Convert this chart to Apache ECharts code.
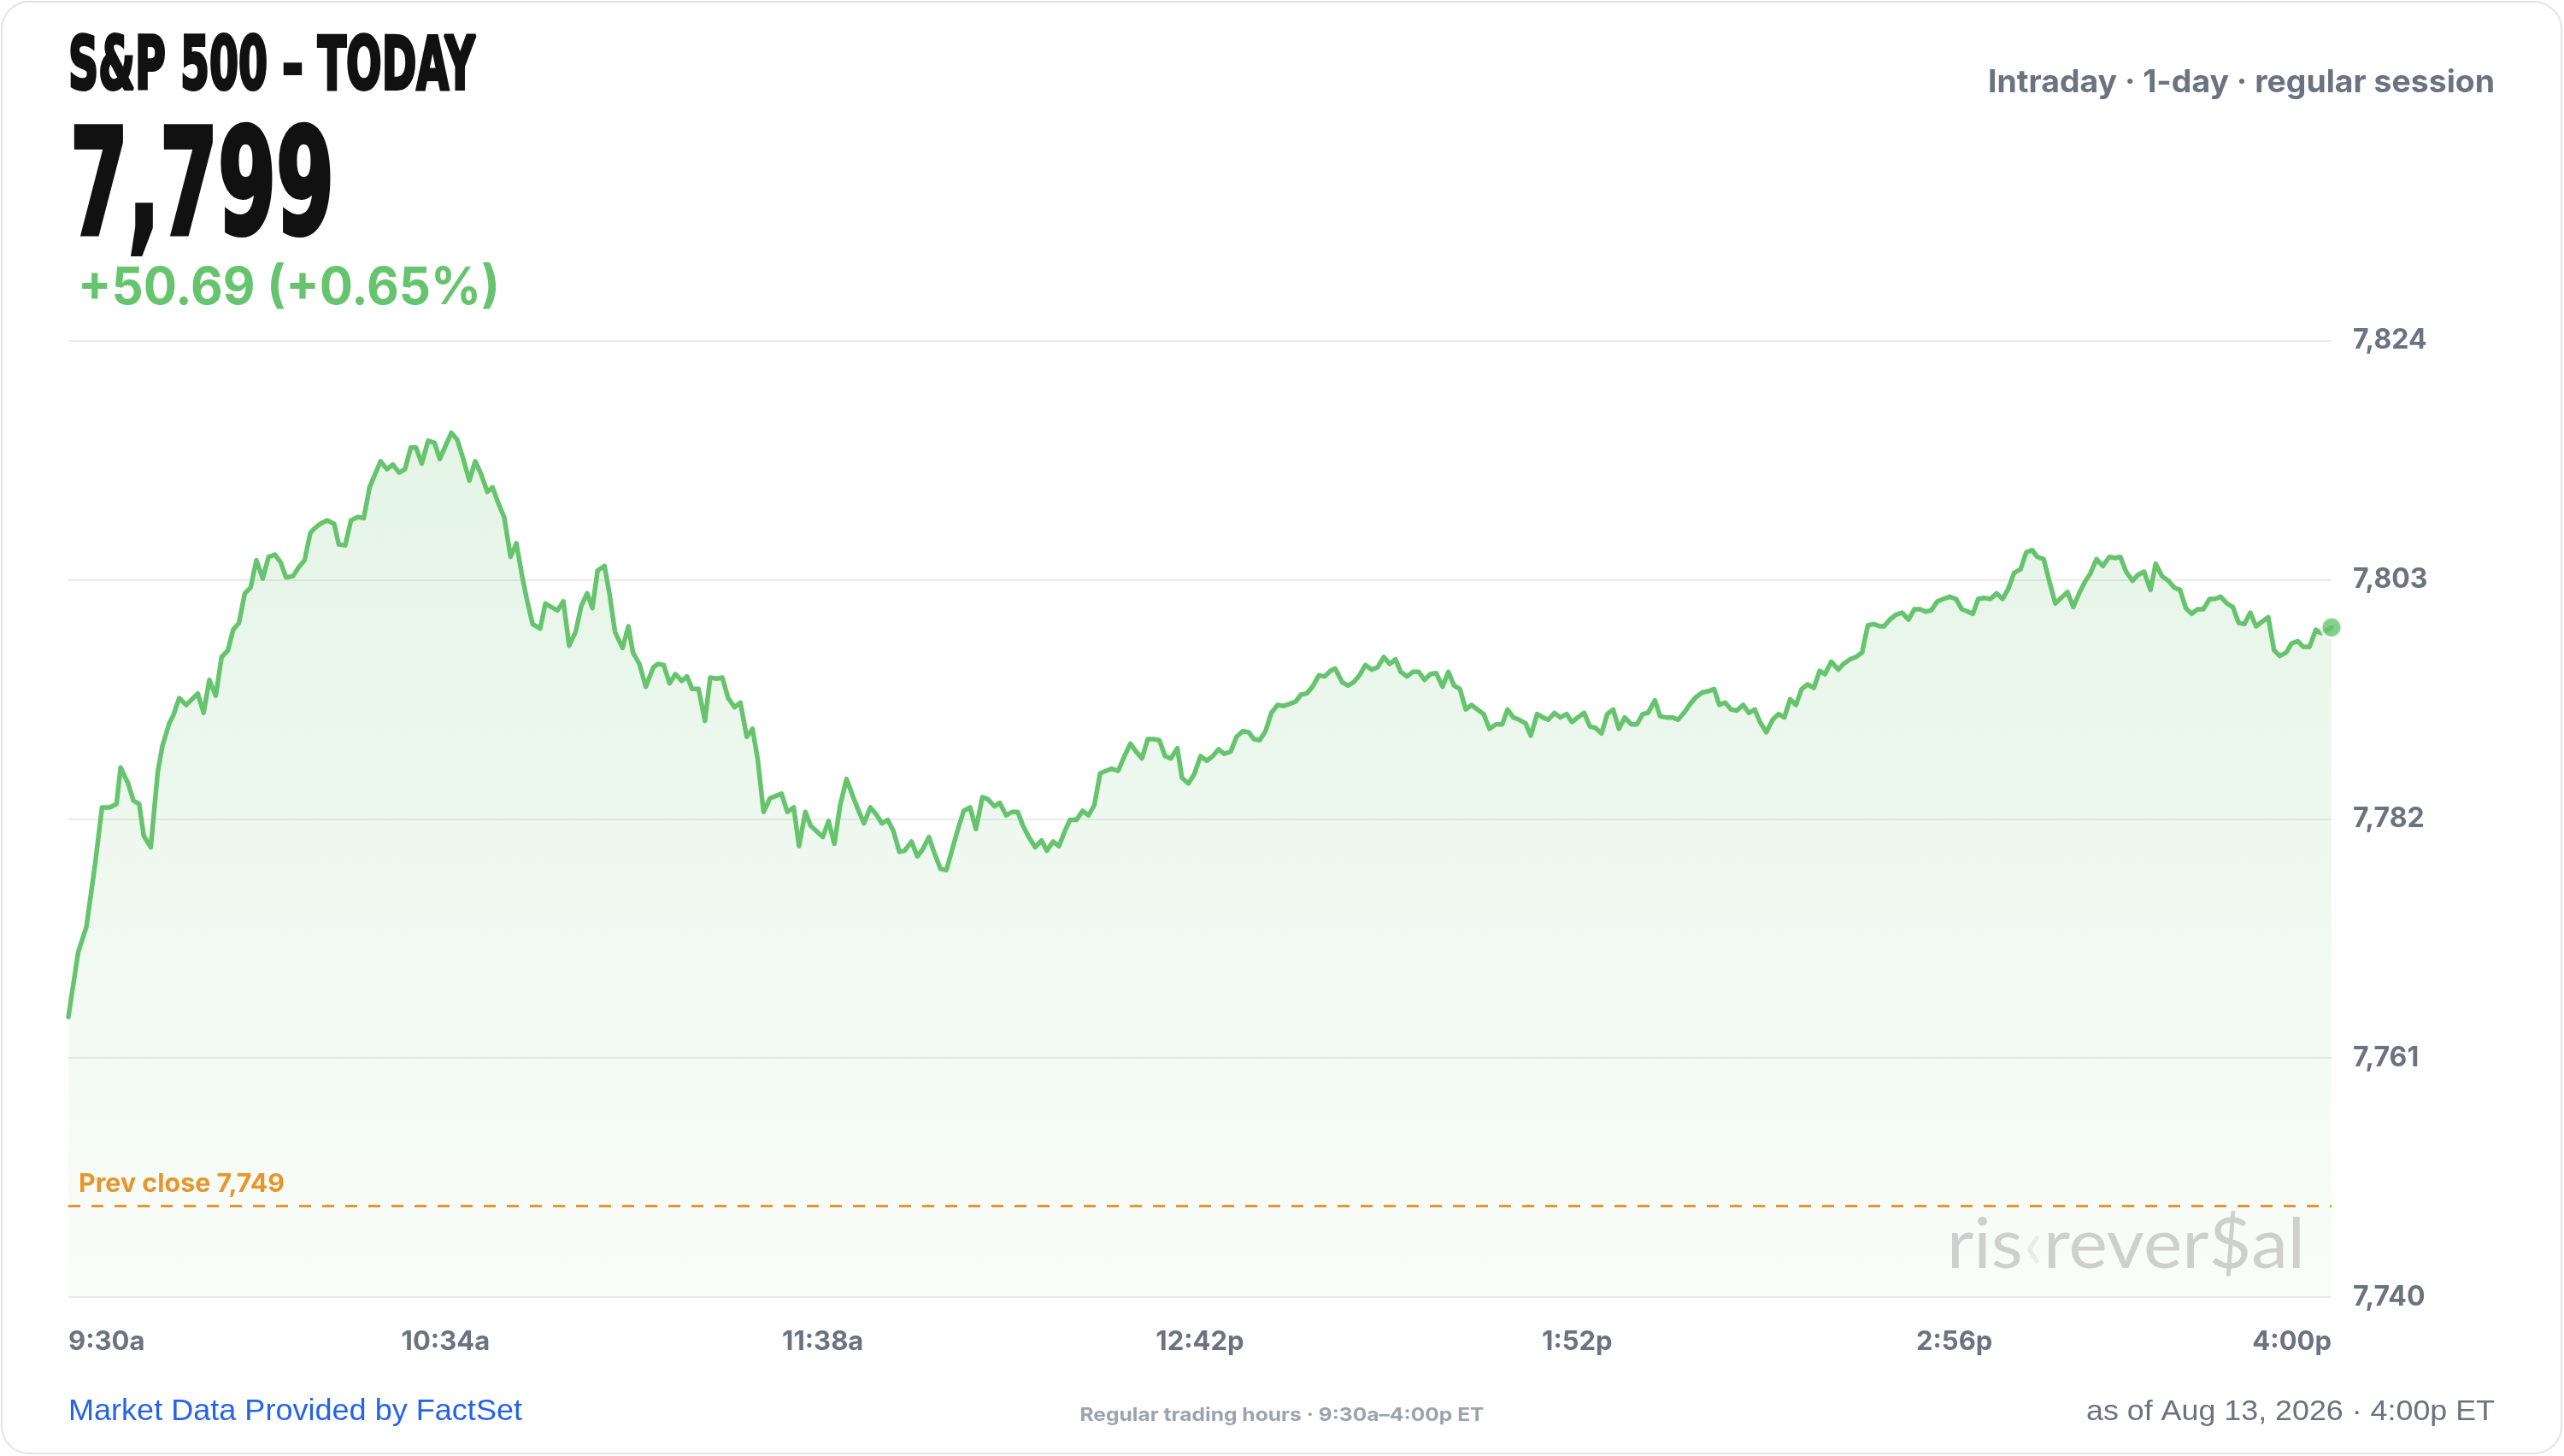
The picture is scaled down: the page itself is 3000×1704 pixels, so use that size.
<!DOCTYPE html>
<html><head><meta charset="utf-8">
<script src="https://cdn.jsdelivr.net/npm/echarts@6/dist/echarts.min.js"></script>
<style>html,body{margin:0;padding:0;background:#fff;}#chart{width:3000px;height:1704px;}</style>
</head><body><div id="chart"></div>
<script>
// ---------- text content ----------
const titleText = 'S&P 500 – TODAY';
const lastPriceText = '7,799';
const changeText = '+50.69 (+0.65%)';
const sessionText = 'Intraday · 1-day · regular session';
const prevCloseText = 'Prev close 7,749';
const sourceText = 'Market Data Provided by FactSet';
const hoursText = 'Regular trading hours · 9:30a–4:00p ET';
const asOfText = 'as of Aug 13, 2026 · 4:00p ET';

// ---------- axes ----------
const timeTickLabels = ['9:30a', '10:34a', '11:38a', '12:42p', '1:52p', '2:56p', '4:00p'];
const sessionMinutes = 390;
const priceAxisMin = 7740;
const priceAxisMax = 7824;
const priceAxisStep = 21;
const prevClose = 7748;

// ---------- intraday series (minutes after 9:30, price) ----------
const minutes = [
  0, 1.7, 3.1, 4.6, 5.8, 7.1, 8.3, 9.0, 10.3, 11.2,
  12.2, 13.0, 14.2, 15.4, 16.2, 17.4, 18.1, 19.1, 20.3, 22.3,
  23.3, 24.3, 25.4, 26.4, 27.5, 28.4, 29.4, 30.4, 31.4, 32.4,
  33.5, 34.5, 35.6, 36.6, 37.5, 38.7, 39.7, 40.7, 41.7, 42.4,
  43.4, 44.6, 45.8, 46.6, 47.7, 48.7, 49.8, 50.9, 51.9, 52.8,
  53.8, 54.9, 55.9, 57.0, 58.0, 59.0, 59.9, 60.9, 62.0, 63.1,
  64.0,
  66.0, 67.0, 68.0, 69.1, 70.1, 71.1, 72.2, 73.1, 74.1, 75.1,
  76.2, 77.2, 78.2, 79.0, 80.0, 81.3, 82.2, 83.2, 84.3, 85.3,
  86.3, 87.4, 88.4, 89.4, 90.3, 91.2, 92.4, 93.3, 94.2, 95.5,
  96.5, 97.3, 98.4, 99.5, 100.8, 101.6, 102.6, 103.6, 104.6, 105.7,
  106.6, 107.5, 108.6, 109.7, 110.6, 111.7, 112.7, 113.7, 114.8, 115.8,
  116.9, 117.9, 118.8, 119.8, 120.9, 121.9, 122.9, 123.9, 125.0, 125.9,
  127.0, 127.9,
  130.0, 131.0, 132.0, 133.0, 134.1, 135.1, 136.1, 137.1, 138.2, 139.2,
  140.2, 141.2, 142.2, 143.2, 144.1, 145.3, 146.3, 147.2, 148.3, 149.3,
  150.3, 151.3, 152.3, 153.3, 154.3, 155.4, 156.4, 157.5, 158.5, 159.6,
  160.5, 161.6, 162.6, 163.6, 164.5, 165.5, 166.6, 167.7, 168.6, 169.7,
  170.7, 171.7, 172.6, 173.7, 174.8, 175.8, 176.8, 177.8, 178.8, 179.8,
  180.9, 181.9, 183.0, 184.0, 185.0, 186.0, 187.0, 188.0, 189.0, 190.0,
  191.1, 191.9, 193.0, 194.0,
  195.1, 196.2, 197.2, 198.2, 199.2, 200.3, 201.3, 202.4, 203.4, 204.3,
  205.3, 206.3, 207.3, 208.4, 209.4, 210.5, 211.5, 212.4, 213.4, 214.4,
  215.5, 216.5, 217.5, 218.3, 219.5, 220.5, 221.5, 222.5, 223.5, 224.6,
  225.6, 226.7, 227.7, 228.7, 229.6, 230.7, 231.7, 232.7, 233.7, 234.7,
  235.7, 236.8, 237.8, 238.8, 239.8, 240.8, 241.8, 242.8, 243.9, 244.9,
  246.0, 247.1, 248.0, 249.0, 250.0, 251.1, 252.0, 253.1, 254.1, 255.0,
  256.1, 257.1, 258.2, 259.1,
  260.1, 261.2, 262.2, 263.1, 264.2, 265.2, 266.2, 267.2, 268.2, 269.3,
  270.3, 271.3, 272.2, 273.4, 274.3, 275.3, 276.4, 277.4, 278.4, 279.5,
  280.5, 281.6, 282.6, 283.6, 284.5, 285.5, 286.5, 287.5, 288.6, 289.6,
  290.6, 291.5, 292.6, 293.7, 294.7, 295.7, 296.7, 297.7, 298.7, 299.7,
  300.8, 301.8, 302.7, 303.8, 305.0, 305.9, 307.0, 308.0, 309.1, 310.1,
  311.1, 312.2, 312.9, 313.9, 314.9, 316.0, 317.1, 318.1, 319.1, 320.0,
  321.0, 322.1, 323.1, 324.2,
  325.3, 326.3, 327.3, 328.2, 329.1, 330.1, 331.2, 332.3, 333.3, 334.3,
  335.3, 336.4, 337.4, 338.4, 339.3, 340.4, 341.4, 342.4, 343.4, 344.5,
  345.5, 346.6, 347.6, 348.4, 349.5, 350.6, 351.7, 352.7, 353.6, 354.6,
  355.7, 356.6, 357.7, 358.8, 359.7, 360.8, 361.9, 362.9, 363.9, 364.9,
  365.9, 366.9, 367.9, 369.0, 369.9, 370.9, 372.0, 373.0, 374.0, 375.0,
  376.0, 377.0, 378.0, 379.1, 380.1, 381.1, 382.2, 383.1, 384.2, 385.1,
  386.2, 387.3, 388.2, 390
];
const prices = [
  7764.6, 7770.3, 7772.5, 7778.0, 7783.0, 7783.0, 7783.3, 7786.5, 7785.1, 7783.6,
  7783.3, 7780.5, 7779.5, 7786.1, 7788.4, 7790.4, 7791.1, 7792.6, 7792.0, 7793.0,
  7791.3, 7794.2, 7792.8, 7796.2, 7796.8, 7798.6, 7799.2, 7801.8, 7802.3, 7804.7,
  7803.1, 7805.0, 7805.2, 7804.5, 7803.2, 7803.3, 7804.1, 7804.7, 7807.1, 7807.5,
  7807.9, 7808.2, 7807.9, 7806.1, 7806.0, 7808.2, 7808.5, 7808.4, 7811.1, 7812.2,
  7813.4, 7812.7, 7813.1, 7812.4, 7812.7, 7814.6, 7814.6, 7813.2, 7815.2, 7815.0,
  7813.6,
  7815.9, 7815.3, 7813.7, 7811.7, 7813.4, 7812.3, 7810.7, 7811.1, 7809.7, 7808.5,
  7805.0, 7806.2, 7803.3, 7801.3, 7799.1, 7798.7, 7800.9, 7800.6, 7800.3, 7801.1,
  7797.2, 7798.4, 7800.7, 7801.8, 7800.5, 7803.8, 7804.2, 7801.6, 7798.4, 7797.0,
  7798.9, 7796.6, 7795.6, 7793.6, 7795.3, 7795.6, 7795.5, 7793.9, 7794.7, 7794.1,
  7794.5, 7793.4, 7793.4, 7790.6, 7794.4, 7794.3, 7794.4, 7792.6, 7791.8, 7792.2,
  7789.2, 7789.9, 7787.2, 7782.6, 7783.8, 7784.0, 7784.2, 7782.6, 7783.0, 7779.6,
  7782.6, 7781.4,
  7780.4, 7781.8, 7779.8, 7783.2, 7785.5, 7784.1, 7782.8, 7781.6, 7783.0, 7782.4,
  7781.6, 7781.9, 7780.9, 7779.1, 7779.2, 7780.0, 7778.7, 7779.3, 7780.4, 7778.9,
  7777.6, 7777.5, 7779.3, 7781.1, 7782.7, 7783.0, 7781.1, 7783.9, 7783.7, 7783.1,
  7783.4, 7782.3, 7782.6, 7782.6, 7781.4, 7780.4, 7779.5, 7780.1, 7779.2, 7780.0,
  7779.6, 7780.9, 7781.9, 7781.9, 7782.7, 7782.3, 7783.2, 7786.0, 7786.2, 7786.4,
  7786.2, 7787.4, 7788.6, 7787.9, 7787.3, 7789.0, 7789.0, 7788.9, 7787.5, 7787.3,
  7788.2, 7785.6, 7785.1, 7785.9,
  7787.5, 7787.1, 7787.5, 7788.1, 7787.7, 7787.9, 7789.2, 7789.7, 7789.6, 7789.0,
  7788.9, 7789.7, 7791.3, 7792.0, 7791.9, 7792.1, 7792.3, 7792.9, 7793.0, 7793.6,
  7794.6, 7794.5, 7795.0, 7795.2, 7794.0, 7793.7, 7794.0, 7794.6, 7795.5, 7795.1,
  7795.3, 7796.2, 7795.6, 7796.0, 7794.9, 7794.5, 7794.9, 7794.9, 7794.2, 7794.7,
  7794.8, 7793.6, 7794.9, 7793.7, 7793.4, 7791.6, 7792.0, 7791.6, 7791.2, 7789.9,
  7790.3, 7790.3, 7791.6, 7790.9, 7790.7, 7790.4, 7789.3, 7791.2, 7790.9, 7790.7,
  7791.3, 7790.9, 7791.2, 7790.5,
  7790.9, 7791.3, 7790.1, 7790.0, 7789.5, 7791.2, 7791.6, 7789.9, 7790.9, 7790.3,
  7790.3, 7791.2, 7791.3, 7792.4, 7791.0, 7790.9, 7790.9, 7790.7, 7791.3, 7792.1,
  7792.7, 7793.1, 7793.2, 7793.4, 7792.0, 7792.2, 7791.6, 7791.5, 7792.0, 7791.3,
  7791.6, 7790.5, 7789.6, 7790.7, 7791.2, 7790.9, 7792.5, 7792.0, 7793.4, 7793.8,
  7793.5, 7795.0, 7794.7, 7795.8, 7795.1, 7795.6, 7796.0, 7796.2, 7796.6, 7799.0,
  7799.1, 7798.9, 7798.9, 7799.5, 7799.9, 7800.1, 7799.5, 7800.4, 7800.4, 7800.2,
  7800.3, 7801.1, 7801.3, 7801.5,
  7801.3, 7800.4, 7800.2, 7800.0, 7801.3, 7801.4, 7801.3, 7801.8, 7801.3, 7802.2,
  7803.6, 7803.9, 7805.4, 7805.6, 7805.0, 7804.8, 7802.8, 7800.9, 7801.4, 7801.9,
  7800.6, 7801.9, 7802.9, 7803.5, 7804.8, 7804.2, 7805.0, 7804.9, 7805.0, 7803.7,
  7802.9, 7803.4, 7803.7, 7802.1, 7804.4, 7803.3, 7802.9, 7802.3, 7802.1, 7800.5,
  7800.0, 7800.4, 7800.4, 7801.3, 7801.3, 7801.5, 7800.9, 7800.6, 7799.2, 7799.1,
  7800.1, 7798.9, 7799.3, 7799.7, 7796.8, 7796.3, 7796.6, 7797.4, 7797.6, 7797.1,
  7797.1, 7798.6, 7798.3, 7798.8
];

// ---------- styling ----------
const GREEN = '#67c46e';
const ORANGE = '#e8952b';
const GRAY = '#6b7280';
const LIGHT_GRAY = '#9ca3af';
const BLUE = '#2563eb';
const INK = '#111111';

const series = minutes.map((m, i) => [m, prices[i]]);
const lastPoint = series[series.length - 1];

const mctx = document.createElement('canvas').getContext('2d');
function fitScale(text, font, target) {
  mctx.font = font;
  const w = mctx.measureText(text).width;
  return w > 0 ? target / w : 1;
}
function label(text, x, y, align, font, fill, targetWidth, extra) {
  return {
    type: 'text', x: x, y: y, silent: true, z: 10,
    scaleX: targetWidth ? fitScale(text, font, targetWidth) : 1,
    style: Object.assign({ text: text, x: 0, y: 0, align: align, verticalAlign: 'middle', font: font, fill: fill }, extra || {})
  };
}

const fTitle = "bold 86px 'DejaVu Sans'";
const fBig = "bold 171px 'DejaVu Sans'";
const fChange = "bold 60px Inter";
const fSession = "bold 37px Inter";
const fPrev = "bold 30px Inter";
const fSource = "400 35px 'Liberation Sans'";
const fHours = "bold 22px Inter";
const fAsOf = "400 34px 'Liberation Sans'";
const fMark = "400 81px Lato";

const markScale = fitScale('ris‹rever$al', fMark, 419);

const chart = echarts.init(document.getElementById('chart'), null, { renderer: 'canvas' });
chart.setOption({
  animation: false,
  backgroundColor: '#ffffff',
  textStyle: { fontFamily: 'Inter' },
  grid: { left: 80, right: 272, top: 398.5, bottom: 186, containLabel: false, outerBoundsMode: 'none' },
  xAxis: {
    type: 'value', min: 0, max: sessionMinutes, interval: sessionMinutes / 6,
    axisLine: { show: false }, axisTick: { show: false }, splitLine: { show: false },
    axisLabel: {
      margin: 37, color: GRAY, fontSize: 31, fontWeight: 'bold', fontFamily: 'Inter',
      showMinLabel: true, showMaxLabel: true, alignMinLabel: 'left', alignMaxLabel: 'right',
      formatter: v => timeTickLabels[Math.round(v / (sessionMinutes / 6))] || ''
    }
  },
  yAxis: {
    type: 'value', position: 'right', min: priceAxisMin, max: priceAxisMax, interval: priceAxisStep,
    axisLine: { show: false }, axisTick: { show: false },
    splitLine: { lineStyle: { color: '#ebebeb', width: 2 } },
    axisLabel: {
      margin: 25, color: GRAY, fontSize: 32, fontWeight: 'bold', fontFamily: 'Inter',
      formatter: v => Math.round(v).toLocaleString('en-US')
    }
  },
  series: [
    {
      type: 'line', data: series, showSymbol: false, symbol: 'none', z: 3,
      lineStyle: { color: GREEN, width: 5.5, cap: 'round', join: 'round' },
      areaStyle: {
        origin: 'start',
        color: new echarts.graphic.LinearGradient(0, 0, 0, 1, [
          { offset: 0, color: 'rgba(104,196,111,0.26)' },
          { offset: 1, color: 'rgba(104,196,111,0.05)' }
        ])
      },
      markLine: {
        silent: true, symbol: ['none', 'none'], label: { show: false },
        lineStyle: { color: ORANGE, width: 3, type: [14, 13] },
        emphasis: { disabled: true },
        data: [{ yAxis: prevClose }]
      }
    },
    {
      type: 'scatter', data: [lastPoint], symbol: 'circle', symbolSize: 24, z: 6,
      itemStyle: { color: GREEN, borderColor: '#ffffff', borderWidth: 3 }
    }
  ],
  graphic: [
    { type: 'rect', silent: true, z: -100, shape: { x: 2, y: 2, width: 2995, height: 1699, r: 32 },
      style: { fill: '#ffffff', stroke: '#e3e3e3', lineWidth: 2 } },
    label(titleText, 80, 82, 'left', fTitle, INK, 476, { stroke: INK, lineWidth: 4 }),
    label(lastPriceText, 82, 229, 'left', fBig, INK, 309, { stroke: INK, lineWidth: 6 }),
    label(changeText, 91, 338, 'left', fChange, GREEN, 494),
    label(sessionText, 2919, 97, 'right', fSession, GRAY, 593),
    label(prevCloseText, 92, 1386, 'left', fPrev, ORANGE, 241),
    label(sourceText, 80, 1652, 'left', fSource, BLUE, 531),
    label(hoursText, 1500, 1656, 'center', fHours, LIGHT_GRAY, 473),
    label(asOfText, 2919, 1653, 'right', fAsOf, GRAY, 478),
    {
      type: 'text', x: 2278, y: 1458, silent: true, z: 4, scaleX: markScale,
      style: {
        text: '{a|ris}{b|‹}{a|rever$al}', x: 0, y: 0, align: 'left', verticalAlign: 'middle', font: fMark,
        rich: {
          a: { fill: '#cfcfcf', color: '#cfcfcf', font: fMark },
          b: { fill: '#ebebeb', color: '#ebebeb', font: fMark }
        }
      }
    }
  ]
});
</script>
</body></html>
